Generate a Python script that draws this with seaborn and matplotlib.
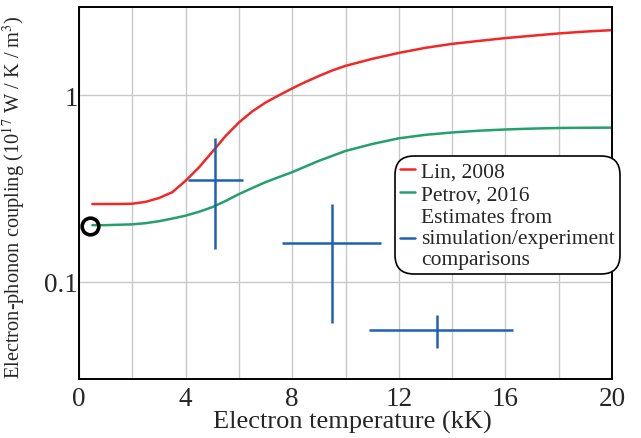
import numpy as np
import matplotlib
matplotlib.use('Agg')
import matplotlib.pyplot as plt
import matplotlib.ticker as mticker
from matplotlib.lines import Line2D
import seaborn as sns

# --- data ---
temp_lin = [0.5, 1, 1.5, 2, 2.5, 3, 3.5, 4, 4.5, 5, 5.5, 6, 6.5, 7, 7.5, 8, 8.5, 9, 9.5,
            10, 11, 12, 13, 14, 15, 16, 17, 18, 19, 20]
coupling_lin = [0.261, 0.261, 0.261, 0.262, 0.268, 0.281, 0.302, 0.348, 0.41, 0.497,
                0.605, 0.715, 0.82, 0.915, 1.0, 1.09, 1.18, 1.27, 1.36, 1.44, 1.57,
                1.69, 1.80, 1.89, 1.96, 2.03, 2.09, 2.15, 2.20, 2.24]

temp_petrov = [0.5, 1, 1.5, 2, 2.5, 3, 3.5, 4, 4.5, 5, 5.5, 6, 6.5, 7, 7.5, 8, 9, 10,
               11, 12, 13, 14, 15, 16, 17, 18, 19, 20]
coupling_petrov = [0.201, 0.201, 0.202, 0.203, 0.206, 0.211, 0.218, 0.226, 0.237, 0.251,
                   0.271, 0.295, 0.318, 0.342, 0.364, 0.387, 0.445, 0.503, 0.548, 0.588,
                   0.614, 0.632, 0.646, 0.656, 0.663, 0.668, 0.670, 0.671]

est_temp = [5.1, 9.5, 13.45]
est_coupling = [0.352, 0.161, 0.055]
est_temp_lo = [4.08, 7.6, 10.9]
est_temp_hi = [6.15, 11.35, 16.3]
est_coupling_lo = [0.15, 0.060, 0.044]
est_coupling_hi = [0.588, 0.26, 0.066]

marker_temp = [0.4]
marker_coupling = [0.2]

legend_labels = ['Lin, 2008', 'Petrov, 2016',
                 'Estimates from\nsimulation/experiment\ncomparisons']

# --- style ---
sns.set_style('white')
plt.rcParams['font.family'] = ['Liberation Serif', 'DejaVu Serif']
plt.rcParams['mathtext.fontset'] = 'stix'

red = '#f02828'
green = '#23a06e'
blue = '#2060b4'

fig = plt.figure(figsize=(6.41, 4.39), dpi=100)
ax = fig.add_axes([79 / 641, 1 - 380 / 439, (612 - 79) / 641, (380 - 7.5) / 439])

sns.lineplot(x=temp_lin, y=coupling_lin, ax=ax, color=red, lw=1.8)
sns.lineplot(x=temp_petrov, y=coupling_petrov, ax=ax, color=green, lw=1.8)

xerr = [np.array(est_temp) - np.array(est_temp_lo), np.array(est_temp_hi) - np.array(est_temp)]
yerr = [np.array(est_coupling) - np.array(est_coupling_lo),
        np.array(est_coupling_hi) - np.array(est_coupling)]
ax.errorbar(est_temp, est_coupling, xerr=xerr, yerr=yerr, fmt='none',
            ecolor=blue, elinewidth=1.8, capsize=0)

ax.plot(marker_temp, marker_coupling, 'o', mfc='none', mec='black', ms=12,
        mew=2.6, clip_on=False, zorder=5)

ax.set_yscale('log')
ax.set_xlim(0, 20)
ax.set_ylim(0.03, 3)

ax.xaxis.set_major_locator(mticker.MultipleLocator(2))
ax.xaxis.set_major_formatter(mticker.FuncFormatter(
    lambda v, p: f'{v:.0f}' if round(v) % 4 == 0 else ''))
ax.yaxis.set_major_locator(mticker.FixedLocator([0.1, 1]))
ax.yaxis.set_major_formatter(mticker.FixedFormatter(['0.1', '1']))
ax.yaxis.set_minor_locator(mticker.LogLocator(base=10, subs=np.arange(2, 10)))
ax.yaxis.set_minor_formatter(mticker.NullFormatter())

ax.grid(True, which='major', color='#c8c8c8', lw=1)
ax.tick_params(axis='x', which='major', direction='in', length=5, color='#999999',
               labelsize=19.5, pad=5)
ax.tick_params(axis='y', which='major', direction='in', length=8, color='#bbbbbb',
               width=1.5, labelsize=19.5, pad=1)
ax.tick_params(axis='y', which='minor', direction='in', length=7, color='black', width=1)

for s in ax.spines.values():
    s.set_color('black')
    s.set_linewidth(1.4)

ax.set_xlabel('Electron temperature (kK)', fontsize=19)
ax.xaxis.set_label_coords(352 / 641, 1 - 411 / 439, transform=fig.transFigure)
ax.set_ylabel('Electron-phonon coupling (10$^{17}$ W / K / m$^{3}$)', fontsize=14.7)
ax.yaxis.set_label_coords(27 / 641, 1 - 197 / 439, transform=fig.transFigure)

handles = [Line2D([], [], color=red, lw=1.8),
           Line2D([], [], color=green, lw=1.8),
           Line2D([], [], color=blue, lw=1.8)]
leg = ax.legend(handles, legend_labels, loc='upper left',
                bbox_to_anchor=(396 / 641, 1 - 158 / 439),
                bbox_transform=fig.transFigure, fontsize=15.5, frameon=True,
                edgecolor='black', framealpha=1,
                handlelength=0.7, handletextpad=0.25, borderpad=0.2,
                labelspacing=0.15, borderaxespad=0)
leg.get_frame().set_linewidth(1.2)
leg.get_frame().set_boxstyle('round', pad=0.05, rounding_size=0.9)
for t in leg.get_texts():
    t.set_linespacing(1.15)

fig.savefig('out.png', dpi=100)
